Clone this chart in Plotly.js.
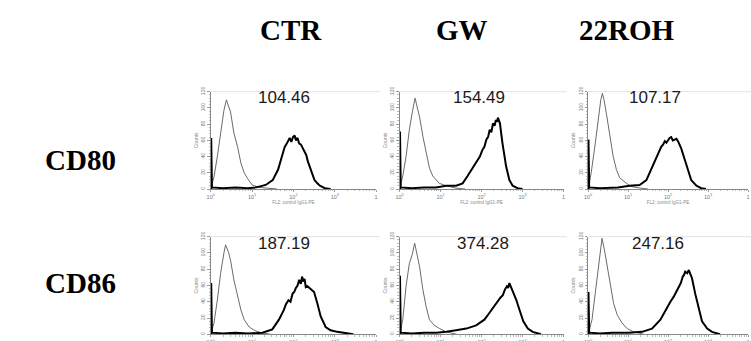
<!DOCTYPE html>
<html><head><meta charset="utf-8">
<script src="https://cdn.plot.ly/plotly-3.0.1.min.js"></script>
<style>html,body{margin:0;padding:0;background:#fff}#chart{width:751px;height:341px}</style>
</head><body><div id="chart"></div>
<script>
// ---- data ----
const columns = ['CTR', 'GW', '22ROH'];
const markers = ['CD80', 'CD86'];
const meanFluorescence = [[104.46, 154.49, 107.17], [187.19, 374.28, 247.16]];
const yTickVals = [0, 20, 40, 60, 80, 100, 120];
const xTickVals = [1, 10, 100, 1000, 10000];
const xTickText = ['10<sup>0</sup>', '10<sup>1</sup>', '10<sup>2</sup>', '10<sup>3</sup>', '1'];
const xAxisTitle = 'FL2: control IgG1-PE';
const yAxisTitle = 'Counts';

// histogram outlines: position in decades (log10 FL2) and counts
const cd80CtrControlLog   = [0.012,0.08,0.16,0.24,0.32,0.38,0.43,0.48,0.56,0.65,0.73,0.81,0.89,1.0,1.17,1.41,1.6];
const cd80CtrControlCount = [2,15,40,69,97,110,102,95,69,52,32,20,13,5,2,1,0];
const cd80CtrSampleLog    = [0.012,0.012,0.03,0.3,0.6,0.9,1.1,1.33,1.5,1.63,1.71,1.76,1.79,1.84,1.87,1.91,1.95,1.99,2.03,2.06,2.1,2.14,2.18,2.23,2.27,2.31,2.35,2.43,2.51,2.58,2.64,2.76,2.9];
const cd80CtrSampleCount  = [0,63,2,1,2,1,2,5,11,24,38,44,52,56,59,63,58,64,66,60,63,56,55,50,48,42,34,22,11,7,4,1,0];

const cd80GwControlLog    = [0.012,0.08,0.16,0.24,0.32,0.38,0.45,0.49,0.57,0.65,0.73,0.81,0.89,0.97,1.14,1.38,1.6];
const cd80GwControlCount  = [2,16,40,73,97,112,97,89,65,44,26,16,11,7,4,1,0];
const cd80GwSampleLog     = [0.012,0.012,0.03,0.3,0.6,0.89,1.14,1.38,1.54,1.66,1.78,1.9,1.96,2.02,2.07,2.12,2.16,2.2,2.24,2.28,2.32,2.35,2.38,2.4,2.43,2.45,2.51,2.56,2.6,2.68,2.76,2.88,3.0];
const cd80GwSampleCount   = [0,71,2,1,2,2,4,4,7,16,26,36,40,48,52,61,64,73,70,81,78,85,83,88,84,81,57,40,28,11,4,1,0];

const cd80RohControlLog   = [0.012,0.08,0.17,0.25,0.32,0.36,0.4,0.46,0.54,0.63,0.71,0.79,0.96,1.08,1.33,1.5];
const cd80RohControlCount = [2,20,52,85,110,118,110,93,65,40,24,14,7,3,1,0];
const cd80RohSampleLog    = [0.012,0.012,0.03,0.3,0.6,0.75,1.04,1.29,1.46,1.58,1.71,1.77,1.83,1.88,1.92,1.96,2.0,2.04,2.08,2.12,2.17,2.21,2.25,2.33,2.42,2.5,2.58,2.71,2.83,2.95];
const cd80RohSampleCount  = [0,61,2,1,2,2,4,5,11,24,40,46,52,55,59,57,61,63,64,60,61,62,59,50,36,22,11,4,1,0];

const cd86CtrControlLog   = [0.012,0.08,0.16,0.24,0.32,0.36,0.43,0.48,0.56,0.65,0.73,0.81,0.93,1.05,1.21,1.45];
const cd86CtrControlCount = [2,14,42,75,100,110,101,91,67,46,30,18,9,5,2,0];
const cd86CtrSampleLog    = [0.012,0.012,0.03,0.3,0.6,0.9,1.25,1.49,1.65,1.77,1.82,1.88,1.93,1.98,2.02,2.06,2.1,2.14,2.18,2.21,2.24,2.27,2.3,2.34,2.38,2.44,2.5,2.58,2.66,2.78,2.9,3.06,3.27,3.45];
const cd86CtrSampleCount  = [0,63,2,1,2,1,2,6,18,30,37,42,40,50,52,57,60,67,62,71,65,68,58,59,57,55,52,38,22,9,5,3,1,0];

const cd86GwControlLog    = [0.012,0.08,0.16,0.24,0.31,0.37,0.42,0.49,0.57,0.65,0.73,0.85,0.98,1.14,1.4];
const cd86GwControlCount  = [2,18,59,87,98,112,100,83,55,34,18,11,7,3,0];
const cd86GwSampleLog     = [0.012,0.012,0.03,0.3,0.6,0.9,1.14,1.38,1.63,1.87,2.07,2.16,2.24,2.32,2.4,2.46,2.52,2.57,2.62,2.65,2.68,2.72,2.76,2.85,2.94,3.02,3.13,3.25,3.45];
const cd86GwSampleCount   = [0,72,2,1,2,2,3,5,7,11,18,24,30,35,42,45,48,55,59,57,63,58,55,42,28,16,7,3,0];

const cd86RohControlLog   = [0.012,0.1,0.18,0.27,0.31,0.35,0.41,0.48,0.56,0.64,0.73,0.85,0.98,1.14,1.4];
const cd86RohControlCount = [2,18,50,83,100,118,104,83,59,38,24,14,7,3,0];
const cd86RohSampleLog    = [0.012,0.012,0.03,0.3,0.6,1.02,1.35,1.6,1.81,1.9,1.98,2.06,2.14,2.2,2.27,2.32,2.37,2.4,2.43,2.48,2.52,2.56,2.6,2.68,2.77,2.85,2.98,3.1,3.3];
const cd86RohSampleCount  = [0,52,2,1,2,2,3,7,18,26,34,40,46,52,59,63,71,73,77,75,79,74,69,50,30,16,7,3,0];

const panels = [
  [cd80CtrControlLog, cd80CtrControlCount, cd80CtrSampleLog, cd80CtrSampleCount],
  [cd80GwControlLog, cd80GwControlCount, cd80GwSampleLog, cd80GwSampleCount],
  [cd80RohControlLog, cd80RohControlCount, cd80RohSampleLog, cd80RohSampleCount],
  [cd86CtrControlLog, cd86CtrControlCount, cd86CtrSampleLog, cd86CtrSampleCount],
  [cd86GwControlLog, cd86GwControlCount, cd86GwSampleLog, cd86GwSampleCount],
  [cd86RohControlLog, cd86RohControlCount, cd86RohSampleLog, cd86RohSampleCount]
];

// ---- layout geometry (pixels) ----
const W = 751, H = 341;
const colX = [[210.7, 376.1], [399.5, 563.5], [588, 748]];
const rowY = [[91.7, 189], [236.7, 334.3]];
const titleX = [291, 462, 627], titleY = 30;
const rowLabelX = 80, rowLabelY = [160, 283];
const valueX = [[284, 479, 655], [284, 483, 658]], valueY = [98, 243];

const px = v => v / W, py = v => 1 - v / H;
const toLin = a => a.map(d => Math.pow(10, d));

const minorX = [];
for (let e = 0; e < 4; e++) for (let m = 2; m <= 9; m++) minorX.push(m * Math.pow(10, e));

const traces = [];
const layout = {
  width: W, height: H, margin: {l: 0, r: 0, t: 0, b: 0},
  paper_bgcolor: '#fff', plot_bgcolor: 'rgba(0,0,0,0)', showlegend: false,
  annotations: [], shapes: []
};

panels.forEach((p, k) => {
  const r = Math.floor(k / 3), c = k % 3;
  const sx = k === 0 ? '' : String(k + 1);
  const xa = 'x' + sx, ya = 'y' + sx;
  traces.push({x: toLin(p[0]), y: p[1], xaxis: xa, yaxis: ya, type: 'scatter', mode: 'lines',
    line: {color: '#6a6a6a', width: 1}, hoverinfo: 'skip'});
  traces.push({x: toLin(p[2]), y: p[3], xaxis: xa, yaxis: ya, type: 'scatter', mode: 'lines',
    line: {color: '#000', width: 2}, hoverinfo: 'skip'});
  layout['xaxis' + sx] = {
    type: 'log', range: [0, 4], domain: [px(colX[c][0]), px(colX[c][1])], anchor: ya,
    showline: true, linecolor: '#888', linewidth: 1, showgrid: false, zeroline: false,
    ticks: 'outside', ticklen: 2, tickwidth: 0.8, tickcolor: '#888',
    tickmode: 'array', tickvals: xTickVals, ticktext: xTickText,
    tickfont: {family: 'Liberation Sans, Arial', size: 5.5, color: '#777'},
    minor: {tickmode: 'array', tickvals: minorX, ticks: 'outside', ticklen: 1.2, tickcolor: '#aaa', showgrid: false},
    title: r === 0 ? {text: xAxisTitle, font: {family: 'Liberation Sans, Arial', size: 4.5, color: '#888'}, standoff: 1} : {text: ''},
    automargin: false
  };
  layout['yaxis' + sx] = {
    range: [0, 120], domain: [py(rowY[r][1]), py(rowY[r][0])], anchor: xa,
    showline: true, linecolor: '#888', linewidth: 1, showgrid: false, zeroline: false,
    ticks: 'outside', ticklen: 2.5, tickwidth: 0.8, tickcolor: '#888',
    tickmode: 'array', tickvals: yTickVals, tickangle: -90,
    tickfont: {family: 'Liberation Sans, Arial', size: 5, color: '#777'},
    minor: {dtick: 4, ticks: 'outside', ticklen: 1.2, tickcolor: '#aaa', showgrid: false},
    title: {text: yAxisTitle, font: {family: 'Liberation Sans, Arial', size: 5, color: '#888'}, standoff: 1},
    automargin: false
  };
  layout.shapes.push({type: 'line', xref: xa + ' domain', yref: ya + ' domain', x0: 0, x1: 1.02, y0: 1, y1: 1,
    line: {color: '#e2e2e2', width: 1}});
  layout.annotations.push({xref: 'paper', yref: 'paper', x: px(valueX[r][c]), y: py(valueY[r]),
    text: meanFluorescence[r][c].toFixed(2), showarrow: false, xanchor: 'center', yanchor: 'middle',
    font: {family: 'Liberation Sans, Arial', size: 17, color: '#1a1a1a'}});
});

columns.forEach((t, c) => layout.annotations.push({xref: 'paper', yref: 'paper', x: px(titleX[c]), y: py(titleY),
  text: '<b>' + t + '</b>', showarrow: false, xanchor: 'center', yanchor: 'middle',
  font: {family: 'Liberation Serif, Times New Roman', size: 29, color: '#000'}}));
markers.forEach((t, r) => layout.annotations.push({xref: 'paper', yref: 'paper', x: px(rowLabelX), y: py(rowLabelY[r]),
  text: '<b>' + t + '</b>', showarrow: false, xanchor: 'center', yanchor: 'middle',
  font: {family: 'Liberation Serif, Times New Roman', size: 29, color: '#000'}}));

Plotly.newPlot('chart', traces, layout, {staticPlot: true, displayModeBar: false});
</script></body></html>
